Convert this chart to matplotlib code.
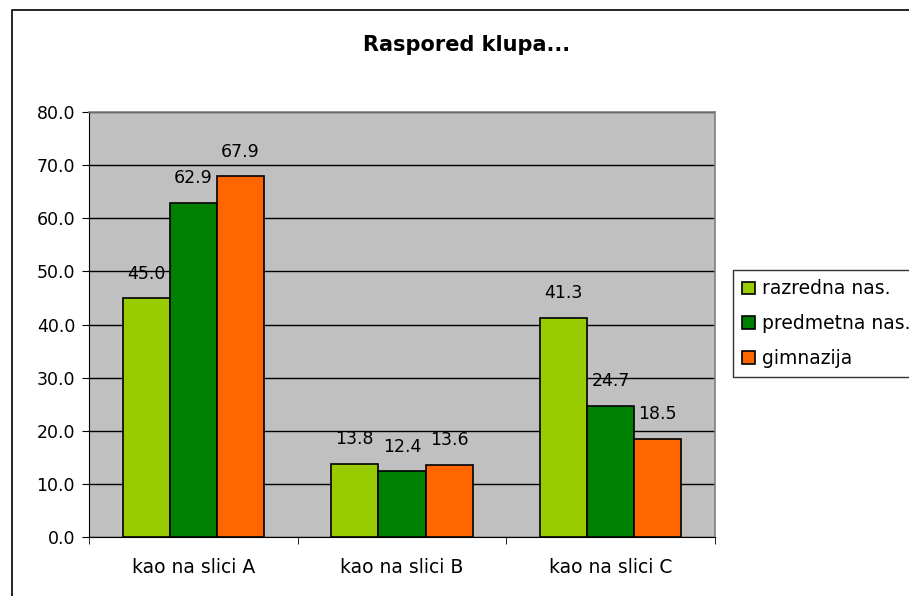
import matplotlib.pyplot as plt
import numpy as np
from matplotlib.patches import Rectangle

plt.rcParams.update({"font.family": ["DejaVu Sans"], "font.size": 12.5})

categories = ['kao na slici A', 'kao na slici B', 'kao na slici C']
series = ['razredna nas.', 'predmetna nas.', 'gimnazija']
razredna = [45.0, 13.8, 41.3]
predmetna = [62.9, 12.4, 24.7]
gimnazija = [67.9, 13.6, 18.5]
colors = ['#99CC00', '#008000', '#FF6600']

fig = plt.figure(figsize=(9.09, 5.96), dpi=100)
ax = fig.add_axes([0.0979, 0.099, 0.6887, 0.713])

# outer chart frame (runs off the right and bottom edges)
fig.patches.append(Rectangle((12 / 909, -0.1), 1.2, 1 - 10 / 596 + 0.1,
                             transform=fig.transFigure, fill=False,
                             edgecolor='black', linewidth=1.2, clip_on=False))

x = np.arange(len(categories))
w = 0.226
for i, (vals, lab) in enumerate(zip([razredna, predmetna, gimnazija], series)):
    bars = ax.bar(x + (i - 1) * w, vals, w, color=colors[i], edgecolor='black',
                  linewidth=1.2, label=lab, zorder=3)
    for b, v in zip(bars, vals):
        ax.text(b.get_x() + b.get_width() / 2, v + 2.9, f'{v:.1f}',
                ha='center', va='bottom', zorder=4)

ax.set_facecolor('#C0C0C0')
ax.set_xlim(-0.5, 2.5)
ax.set_ylim(0, 80)
ax.set_yticks(np.arange(0, 81, 10))
ax.set_yticklabels([f'{v:.1f}' for v in np.arange(0, 81, 10)])
ax.yaxis.grid(True, color='black', linewidth=1.0, zorder=0)
ax.set_axisbelow(True)

ax.set_xticks(x)
ax.set_xticklabels(categories, fontsize=13.5)
ax.set_xticks([-0.5, 0.5, 1.5, 2.5], minor=True)
ax.tick_params(axis='x', which='major', length=0, pad=15)
ax.tick_params(axis='x', which='minor', length=5, direction='out')
ax.tick_params(axis='y', length=5, direction='out', pad=5)

for s in ['top', 'right']:
    ax.spines[s].set_color('#808080')
    ax.spines[s].set_linewidth(1.2)
for s in ['left', 'bottom']:
    ax.spines[s].set_color('black')

fig.text(467 / 909, 1 - 45 / 596, 'Raspored klupa...', ha='center', va='center',
         fontsize=15, fontweight='bold')

leg = fig.legend(loc='upper left', bbox_to_anchor=(733 / 909, 1 - 270 / 596),
                 frameon=True, fancybox=False, edgecolor='black', fontsize=13.5,
                 handlelength=0.65, handleheight=0.65, handletextpad=0.4,
                 labelspacing=0.84, borderpad=0.5, borderaxespad=0)
leg.get_frame().set_linewidth(1.0)

fig.savefig('out.png', dpi=100)
